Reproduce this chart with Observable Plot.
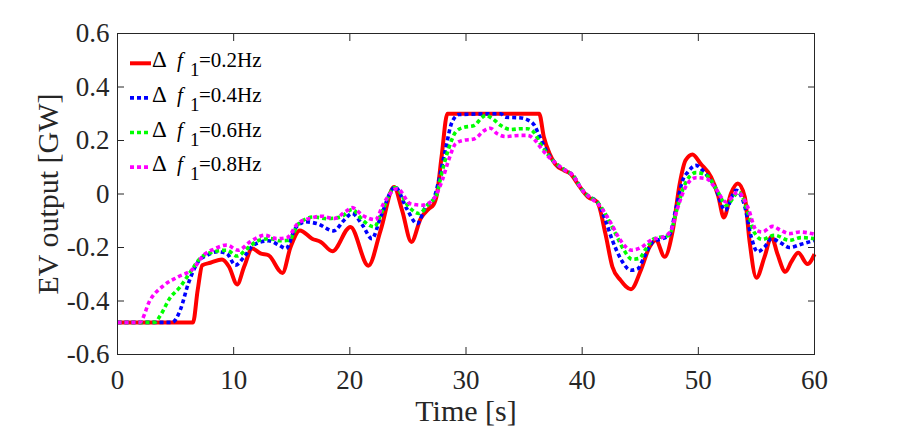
<!DOCTYPE html>
<html><head><meta charset="utf-8">
<script src="https://cdn.jsdelivr.net/npm/d3@7"></script>
<script src="https://cdn.jsdelivr.net/npm/@observablehq/plot@0.6"></script>
<style>body{margin:0;background:#fff} svg{display:block} svg text{font-family:'Liberation Serif','Times New Roman',serif !important;}</style>
</head><body><div id="chart"></div>
<script>
// [time (s), EV output (GW)]
const s02 = [[0,-0.48],[6.5,-0.48],[6.9,-0.36],[7.3,-0.266],[8.0,-0.257],[9.0,-0.245],[9.6,-0.272],[10.3,-0.338],[10.9,-0.272],[11.6,-0.204],[12.3,-0.222],[13.0,-0.229],[14.2,-0.295],[14.9,-0.198],[15.7,-0.136],[16.75,-0.167],[17.5,-0.179],[18.5,-0.214],[20.05,-0.123],[21.6,-0.268],[22.65,-0.136],[23.8,0.026],[24.5,-0.061],[25.3,-0.179],[26.1,-0.092],[26.8,-0.055],[27.2,-0.04],[27.5,0.0],[27.9,0.14],[28.4,0.3],[36.3,0.3],[36.7,0.213],[37.2,0.15],[37.7,0.111],[38.45,0.088],[39.0,0.076],[39.6,0.039],[40.5,-0.011],[41.3,-0.03],[42.0,-0.148],[42.6,-0.272],[43.3,-0.322],[44.2,-0.356],[45.05,-0.285],[45.8,-0.198],[46.35,-0.173],[47.1,-0.235],[47.8,-0.136],[48.4,0.039],[48.9,0.126],[49.5,0.148],[50.2,0.113],[51.1,0.063],[51.7,-0.005],[52.2,-0.088],[52.8,0.001],[53.4,0.039],[54.0,-0.011],[54.4,-0.173],[55.0,-0.313],[55.7,-0.235],[56.3,-0.16],[56.8,-0.223],[57.5,-0.291],[58.0,-0.254],[58.6,-0.22],[59.4,-0.262],[60,-0.225]];
const s04 = [[0,-0.48],[4.7,-0.48],[5.4,-0.434],[6.1,-0.334],[7.0,-0.25],[7.7,-0.229],[8.6,-0.216],[9.4,-0.222],[10.15,-0.266],[11.0,-0.229],[11.7,-0.191],[13.0,-0.175],[13.9,-0.191],[14.5,-0.204],[15.3,-0.129],[16.2,-0.104],[17.2,-0.111],[18.6,-0.138],[19.5,-0.098],[20.2,-0.073],[21.1,-0.117],[21.9,-0.167],[22.65,-0.086],[23.9,0.026],[24.9,-0.055],[25.8,-0.111],[26.5,-0.049],[27.2,-0.02],[27.6,0.04],[28.2,0.16],[28.8,0.269],[29.4,0.297],[33.0,0.3],[33.4,0.287],[34.6,0.285],[35.3,0.277],[35.9,0.256],[36.3,0.219],[36.9,0.163],[37.6,0.119],[38.5,0.09],[39.2,0.07],[40.0,0.015],[40.6,-0.01],[41.3,-0.03],[41.9,-0.086],[42.6,-0.173],[43.3,-0.241],[44.2,-0.285],[44.8,-0.279],[45.35,-0.235],[46.1,-0.179],[46.9,-0.167],[47.5,-0.154],[48.1,-0.049],[48.65,0.051],[49.1,0.082],[49.8,0.107],[50.5,0.082],[51.5,0.02],[52.3,-0.061],[53.25,0.014],[53.97,-0.042],[54.55,-0.16],[55.1,-0.216],[55.7,-0.198],[56.3,-0.167],[57.1,-0.183],[57.85,-0.2],[58.85,-0.188],[60,-0.173]];
const s06 = [[0,-0.48],[3.2,-0.48],[3.7,-0.453],[4.5,-0.39],[5.4,-0.347],[6.3,-0.29],[7.1,-0.241],[8.3,-0.216],[9.4,-0.21],[10.3,-0.232],[11.15,-0.204],[12.2,-0.173],[13.2,-0.167],[14.0,-0.175],[14.75,-0.173],[15.6,-0.111],[16.9,-0.086],[18.0,-0.092],[19.2,-0.086],[20.2,-0.058],[21.1,-0.098],[22.1,-0.123],[22.8,-0.061],[23.9,0.024],[25.1,-0.049],[25.95,-0.073],[26.8,-0.036],[27.5,0.0],[27.8,0.057],[28.5,0.169],[29.1,0.231],[29.7,0.248],[30.7,0.256],[31.4,0.287],[31.7,0.294],[32.3,0.281],[33.0,0.256],[33.85,0.241],[34.7,0.244],[35.3,0.244],[35.9,0.228],[36.4,0.188],[37.0,0.15],[37.6,0.12],[38.5,0.09],[39.2,0.07],[40.0,0.015],[40.6,-0.01],[41.3,-0.03],[41.9,-0.067],[42.8,-0.142],[43.6,-0.21],[44.3,-0.244],[44.9,-0.241],[45.5,-0.204],[46.2,-0.167],[47.5,-0.154],[48.1,-0.067],[48.8,0.032],[49.8,0.08],[50.7,0.07],[51.7,0.007],[52.4,-0.042],[53.5,0.007],[54.25,-0.067],[54.8,-0.142],[55.5,-0.17],[56.55,-0.154],[57.85,-0.173],[58.85,-0.163],[60,-0.167]];
const s08 = [[0,-0.48],[1.9,-0.48],[2.8,-0.397],[4.0,-0.341],[5.2,-0.31],[6.55,-0.278],[7.4,-0.229],[8.3,-0.206],[9.4,-0.191],[10.4,-0.21],[11.4,-0.179],[12.7,-0.154],[13.7,-0.167],[14.6,-0.163],[15.5,-0.111],[16.5,-0.092],[17.6,-0.083],[18.6,-0.092],[19.6,-0.067],[20.2,-0.051],[21.1,-0.08],[22.2,-0.096],[22.9,-0.036],[24.1,0.02],[25.2,-0.036],[26.2,-0.042],[27.1,-0.024],[27.95,0.051],[28.5,0.126],[29.1,0.188],[29.7,0.2],[30.7,0.206],[31.6,0.238],[32.1,0.246],[32.7,0.225],[33.4,0.215],[34.6,0.219],[35.3,0.219],[35.9,0.203],[36.4,0.175],[37.0,0.144],[37.6,0.12],[38.5,0.09],[39.2,0.07],[40.0,0.015],[40.6,-0.01],[41.6,-0.049],[42.5,-0.111],[43.3,-0.173],[44.25,-0.21],[45.05,-0.2],[45.9,-0.173],[47.1,-0.158],[47.65,-0.136],[48.2,-0.055],[48.9,0.026],[49.8,0.061],[50.7,0.057],[51.5,0.02],[52.4,-0.03],[53.4,0.007],[54.25,-0.049],[55.0,-0.136],[55.5,-0.142],[56.4,-0.121],[57.1,-0.136],[57.85,-0.148],[58.7,-0.142],[60,-0.15]];

const freqLabels = ["=0.2Hz", "=0.4Hz", "=0.6Hz", "=0.8Hz"];
const seriesColors = ["#ff0000", "#0000ff", "#00ff00", "#ff00ff"];
const xTicks = [0, 10, 20, 30, 40, 50, 60];
const yTicks = [-0.6, -0.4, -0.2, 0, 0.2, 0.4, 0.6];
const xLabel = "Time [s]";
const yLabel = "EV output [GW]";

const font = "'Liberation Serif','Times New Roman',serif";
const ink = "#262626";
const series = [s02, s04, s06, s08];

const lineMarks = series.map((s, i) => Plot.line(s, {
  x: d => d[0], y: d => d[1],
  stroke: seriesColors[i],
  strokeWidth: i === 0 ? 4 : 3.6,
  strokeDasharray: i === 0 ? null : "4,3",
  strokeLinecap: "butt",
  curve: "monotone-x"
}));

const fmtY = d => d === 0 ? "0" : d.toFixed(1);

const chart = Plot.plot({
  width: 900, height: 429,
  marginLeft: 117, marginRight: 86, marginTop: 33, marginBottom: 75,
  style: {fontFamily: font, background: "#fff", color: ink},
  x: {domain: [0, 60]},
  y: {domain: [-0.6, 0.6]},
  marks: [
    ...lineMarks,
    Plot.frame({stroke: ink, strokeWidth: 1}),
    Plot.axisX(xTicks, {anchor: "bottom", tickSize: -7, tickFormat: () => "", stroke: ink}),
    Plot.axisX(xTicks, {anchor: "top", tickSize: -7, tickFormat: () => "", stroke: ink}),
    Plot.axisY(yTicks, {anchor: "left", tickSize: -7, tickFormat: () => "", stroke: ink}),
    Plot.axisY(yTicks, {anchor: "right", tickSize: -7, tickFormat: () => "", stroke: ink}),
    Plot.axisX(xTicks, {anchor: "bottom", tickSize: 0, tickPadding: 15, fontSize: 27, fontFamily: font, fontVariant: "normal", tickFormat: d => String(d), fill: ink, label: null}),
    Plot.axisY(yTicks, {anchor: "left", tickSize: 0, tickPadding: 8, fontSize: 27, fontFamily: font, fontVariant: "normal", tickFormat: fmtY, fill: ink, label: null}),
    Plot.text([xLabel], {text: d => d, frameAnchor: "bottom", dy: 66, fontSize: 30, fontFamily: font, fill: ink}),
    Plot.text([yLabel], {text: d => d, frameAnchor: "left", textAnchor: "middle", dx: -69, rotate: -90, fontSize: 30, fontFamily: font, fill: ink})
  ]
});
document.getElementById("chart").appendChild(chart);

// legend (inside the axes, top-left)
const svg = d3.select(chart);
svg.selectAll("text").style("font-family", font);
const lg = svg.append("g").attr("font-family", font).attr("font-size", 21)
  .attr("fill", "#000").attr("text-anchor", "start");
freqLabels.forEach((lab, i) => {
  const yc = 63.3 + i * 34.6;
  lg.append("line").attr("x1", 130).attr("x2", 151).attr("y1", yc).attr("y2", yc)
    .attr("stroke", seriesColors[i]).attr("stroke-width", i === 0 ? 4 : 3.6)
    .attr("stroke-dasharray", i === 0 ? null : "4,3");
  const t = lg.append("text").attr("y", yc + 4);
  t.append("tspan").attr("x", 152).attr("font-size", 23).text("Δ");
  t.append("tspan").attr("x", 177).attr("font-style", "italic").text("f");
  t.append("tspan").attr("x", 190).attr("dy", 9).attr("font-size", 19).text("1");
  t.append("tspan").attr("x", 199).attr("dy", -9).text(lab);
});
</script>
</body></html>
